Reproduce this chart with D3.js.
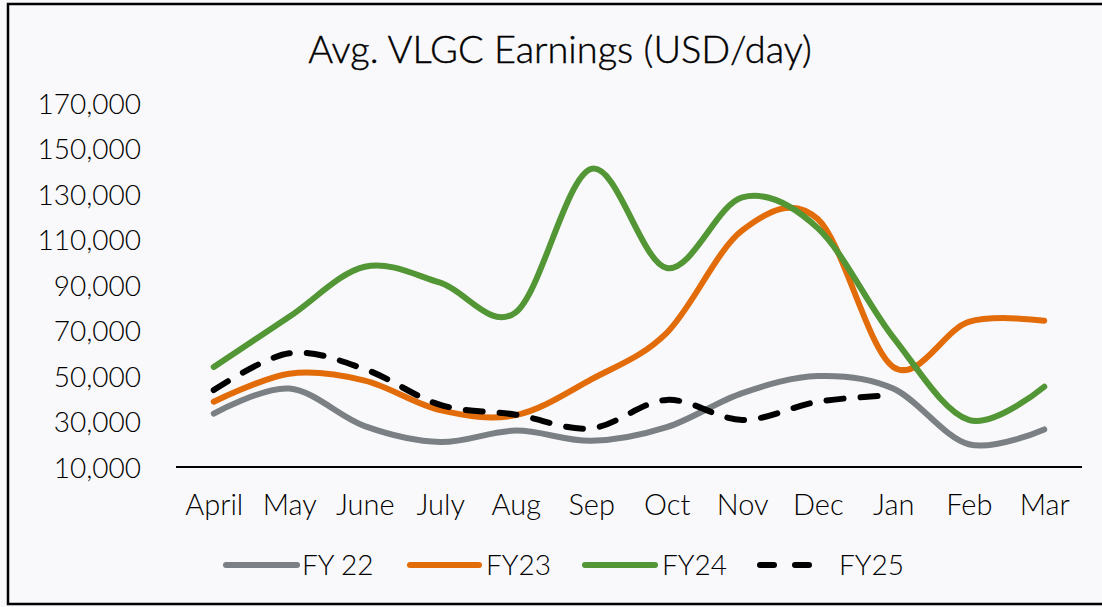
<!DOCTYPE html>
<html>
<head>
<meta charset="utf-8">
<script src="https://cdn.jsdelivr.net/npm/d3@7"></script>
<style>
  html, body { margin: 0; padding: 0; background: #f9f9fb; }
  svg { display: block; font-family: Lato, "Open Sans", sans-serif; font-weight: 300; }
</style>
</head>
<body>
<div id="chart"></div>
<script>
// chart data
const months = ["April", "May", "June", "July", "Aug", "Sep", "Oct", "Nov", "Dec", "Jan", "Feb", "Mar"];
const fy22 = [33500, 44500, 28000, 21000, 26000, 21500, 27500, 42500, 50000, 44500, 20000, 26500];
const fy23 = [38700, 51000, 48000, 35000, 32800, 48500, 69000, 114000, 119000, 54000, 73800, 74300];
const fy24 = [54000, 76000, 98000, 91000, 78000, 141000, 97500, 128500, 115000, 67000, 30700, 45300];
const fy25 = [43800, 60000, 53000, 37300, 33000, 27000, 39500, 30700, 38700, 41600];
const yTicks = [10000, 30000, 50000, 70000, 90000, 110000, 130000, 150000, 170000];

const seriesNames = ["FY 22", "FY23", "FY24", "FY25"];
const seriesValues = [fy22, fy23, fy24, fy25];
const colors = ["#7b8084", "#e36c0a", "#529635", "#000000"];

const width = 1102;
const height = 607;
const plot = { left: 176, right: 1082, top: 103, bottom: 467 };

const svg = d3.select("#chart")
  .append("svg")
  .attr("width", width)
  .attr("height", height);

// frame
svg.append("rect")
  .attr("x", 8).attr("y", 4)
  .attr("width", 1110).attr("height", 600)
  .attr("fill", "#f9f9fb")
  .attr("stroke", "#000")
  .attr("stroke-width", 2.5);

// title
svg.append("text")
  .attr("x", 560).attr("y", 63)
  .attr("text-anchor", "middle")
  .attr("fill", "#000")
  .style("font-size", "38px")
  .style("stroke", "#000")
  .style("stroke-width", 0.4)
  .text("Avg. VLGC Earnings (USD/day)");

// scales
const x = d3.scalePoint()
  .domain(months)
  .range([plot.left, plot.right])
  .padding(0.5);

const y = d3.scaleLinear()
  .domain([10000, 170000])
  .range([plot.bottom, plot.top]);

// y tick labels (no axis line in the reference)
const yAxis = d3.axisLeft(y)
  .tickValues(yTicks)
  .tickFormat(d3.format(","))
  .tickSize(0)
  .tickPadding(0);
const gy = svg.append("g")
  .attr("transform", "translate(141,0)")
  .call(yAxis);
gy.select(".domain").remove();
gy.selectAll("text")
  .attr("fill", "#000")
  .attr("dy", "0.36em")
  .style("font-size", "28px")
  .style("font-family", "Lato, sans-serif")
  .style("font-weight", 300);

// x axis
const xAxis = d3.axisBottom(x).tickSize(0).tickPadding(0);
const gx = svg.append("g")
  .attr("transform", `translate(0,${plot.bottom})`)
  .call(xAxis);
gx.select(".domain").remove();
gx.append("line")
  .attr("x1", plot.left).attr("x2", plot.right)
  .attr("stroke", "#000").attr("stroke-width", 2);
gx.selectAll("text")
  .attr("fill", "#000")
  .attr("y", 48)
  .attr("dy", 0)
  .style("font-size", "29px")
  .style("font-family", "Lato, sans-serif")
  .style("font-weight", 300);

// lines
const line = d3.line()
  .x((d, i) => x(months[i]))
  .y((d) => y(d))
  .curve(d3.curveCardinal.tension(0));

seriesValues.forEach((vals, i) => {
  const path = svg.append("path")
    .datum(vals)
    .attr("d", line)
    .attr("fill", "none")
    .attr("stroke", colors[i])
    .attr("stroke-width", 6)
    .attr("stroke-linecap", "round")
    .attr("stroke-linejoin", "round");
  if (i === 3) path.attr("stroke-dasharray", "17,17");
});

// legend
const legendItems = [
  { x1: 226, x2: 297, tx: 302 },
  { x1: 410, x2: 479, tx: 486 },
  { x1: 585, x2: 655, tx: 662 },
  { x1: 760, x2: 815, tx: 839 }
];
const legendY = 565;
legendItems.forEach((p, i) => {
  const l = svg.append("line")
    .attr("x1", p.x1).attr("x2", p.x2)
    .attr("y1", legendY).attr("y2", legendY)
    .attr("stroke", colors[i])
    .attr("stroke-width", 6)
    .attr("stroke-linecap", "round");
  if (i === 3) l.attr("stroke-dasharray", "14,21");
  svg.append("text")
    .attr("x", p.tx).attr("y", legendY + 10)
    .attr("fill", "#000")
    .style("font-size", "28px")
    .text(seriesNames[i]);
});
</script>
</body>
</html>
